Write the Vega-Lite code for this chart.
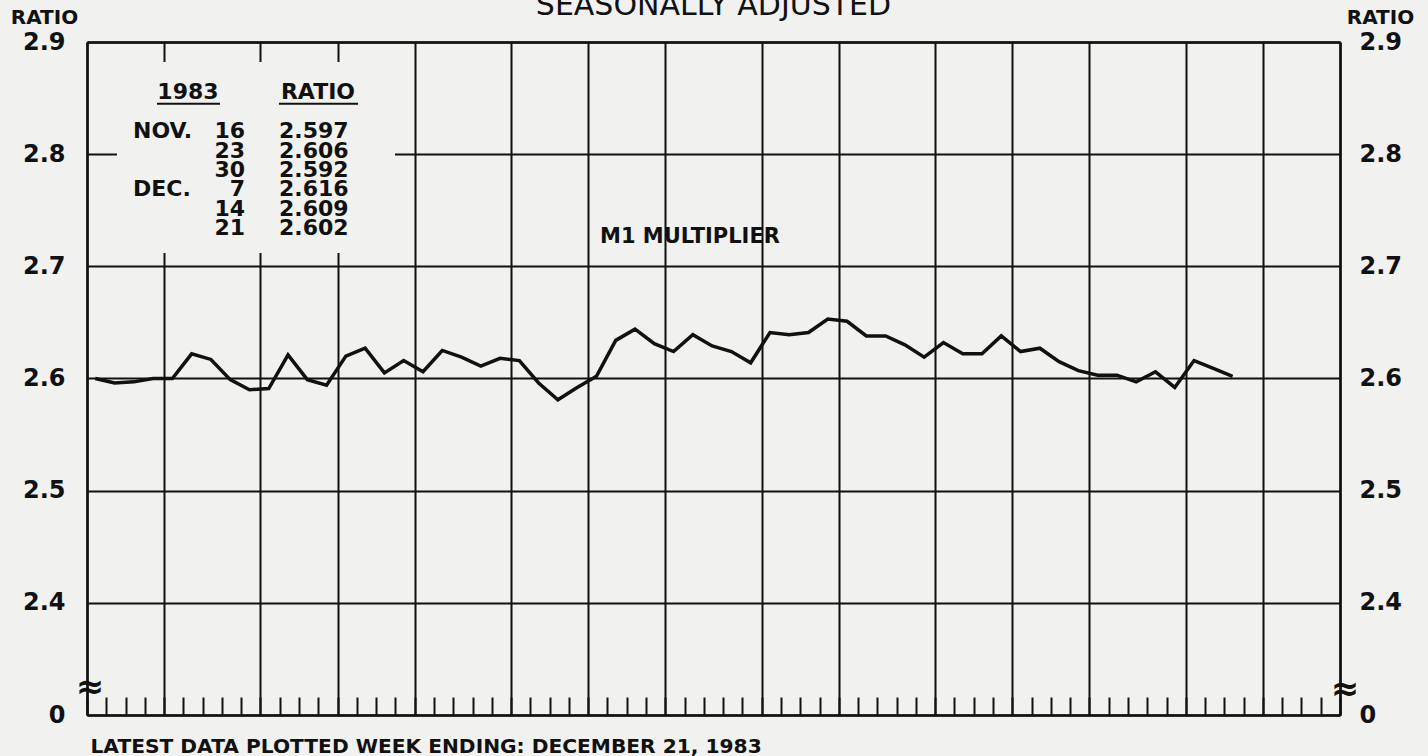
{
  "$schema": "https://vega.github.io/schema/vega-lite/v6.json",
  "width": 1253,
  "height": 673,
  "autosize": "none",
  "padding": {"left": 87, "top": 42, "right": 88, "bottom": 41},
  "background": "#f1f1ef",
  "title": {"text": "SEASONALLY ADJUSTED", "anchor": "middle", "font": "DejaVu Sans", "fontSize": 30, "fontWeight": "normal", "color": "#111111", "offset": -9, "dy": 29, "baseline": "alphabetic"},
  "datasets": {
    "m1": [
      {"date": "1982-11-03", "ratio": 2.600},
      {"date": "1982-11-10", "ratio": 2.596},
      {"date": "1982-11-17", "ratio": 2.597},
      {"date": "1982-11-24", "ratio": 2.600},
      {"date": "1982-12-01", "ratio": 2.600},
      {"date": "1982-12-08", "ratio": 2.622},
      {"date": "1982-12-15", "ratio": 2.617},
      {"date": "1982-12-22", "ratio": 2.599},
      {"date": "1982-12-29", "ratio": 2.590},
      {"date": "1983-01-05", "ratio": 2.591},
      {"date": "1983-01-12", "ratio": 2.621},
      {"date": "1983-01-19", "ratio": 2.599},
      {"date": "1983-01-26", "ratio": 2.594},
      {"date": "1983-02-02", "ratio": 2.620},
      {"date": "1983-02-09", "ratio": 2.627},
      {"date": "1983-02-16", "ratio": 2.605},
      {"date": "1983-02-23", "ratio": 2.616},
      {"date": "1983-03-02", "ratio": 2.606},
      {"date": "1983-03-09", "ratio": 2.625},
      {"date": "1983-03-16", "ratio": 2.619},
      {"date": "1983-03-23", "ratio": 2.611},
      {"date": "1983-03-30", "ratio": 2.618},
      {"date": "1983-04-06", "ratio": 2.616},
      {"date": "1983-04-13", "ratio": 2.596},
      {"date": "1983-04-20", "ratio": 2.581},
      {"date": "1983-04-27", "ratio": 2.592},
      {"date": "1983-05-04", "ratio": 2.602},
      {"date": "1983-05-11", "ratio": 2.634},
      {"date": "1983-05-18", "ratio": 2.644},
      {"date": "1983-05-25", "ratio": 2.631},
      {"date": "1983-06-01", "ratio": 2.624},
      {"date": "1983-06-08", "ratio": 2.639},
      {"date": "1983-06-15", "ratio": 2.629},
      {"date": "1983-06-22", "ratio": 2.624},
      {"date": "1983-06-29", "ratio": 2.614},
      {"date": "1983-07-06", "ratio": 2.641},
      {"date": "1983-07-13", "ratio": 2.639},
      {"date": "1983-07-20", "ratio": 2.641},
      {"date": "1983-07-27", "ratio": 2.653},
      {"date": "1983-08-03", "ratio": 2.651},
      {"date": "1983-08-10", "ratio": 2.638},
      {"date": "1983-08-17", "ratio": 2.638},
      {"date": "1983-08-24", "ratio": 2.630},
      {"date": "1983-08-31", "ratio": 2.619},
      {"date": "1983-09-07", "ratio": 2.632},
      {"date": "1983-09-14", "ratio": 2.622},
      {"date": "1983-09-21", "ratio": 2.622},
      {"date": "1983-09-28", "ratio": 2.638},
      {"date": "1983-10-05", "ratio": 2.624},
      {"date": "1983-10-12", "ratio": 2.627},
      {"date": "1983-10-19", "ratio": 2.615},
      {"date": "1983-10-26", "ratio": 2.607},
      {"date": "1983-11-02", "ratio": 2.603},
      {"date": "1983-11-09", "ratio": 2.603},
      {"date": "1983-11-16", "ratio": 2.597},
      {"date": "1983-11-23", "ratio": 2.606},
      {"date": "1983-11-30", "ratio": 2.592},
      {"date": "1983-12-07", "ratio": 2.616},
      {"date": "1983-12-14", "ratio": 2.609},
      {"date": "1983-12-21", "ratio": 2.602}
    ]
  },
  "config": {
    "view": {"stroke": null},
    "font": "DejaVu Sans",
    "axis": {
      "domainColor": "#111111", "domainWidth": 2.5,
      "gridColor": "#111111", "gridWidth": 2, "gridOpacity": 1,
      "tickColor": "#111111", "labelColor": "#111111", "titleColor": "#111111",
      "labelFont": "DejaVu Sans", "titleFont": "DejaVu Sans", "labelOverlap": false
    }
  },
  "resolve": {"scale": {"y": "independent"}, "axis": {"x": "independent", "y": "independent"}},
  "layer": [
    {
      "resolve": {"axis": {"x": "independent", "y": "independent"}},
      "layer": [
        {
          "data": {"name": "m1"},
          "mark": {"type": "line", "color": "#111111", "strokeWidth": 3.5},
          "encoding": {
            "x": {
              "field": "date", "type": "temporal",
              "scale": {"domain": [{"year": 1982, "month": 10, "date": 31}, {"year": 1984, "month": 1, "date": 29}], "nice": false},
              "axis": {
                "orient": "bottom", "tickCount": {"interval": "week", "step": 1}, "tickSize": -18, "tickWidth": 2,
                "labels": false, "grid": false, "domain": true,
                "title": "LATEST DATA PLOTTED WEEK ENDING: DECEMBER 21, 1983",
                "titleX": 3, "titleY": 37, "titleAlign": "left", "titleBaseline": "alphabetic",
                "titleFontSize": 20.2, "titleFontWeight": "bold"
              }
            },
            "y": {
              "field": "ratio", "type": "quantitative",
              "scale": {"domain": [2.3, 2.9], "nice": false, "zero": false},
              "axis": {
                "orient": "left", "values": [2.3, 2.4, 2.5, 2.6, 2.7, 2.8, 2.9],
                "labelExpr": "datum.value < 2.35 ? '0' : format(datum.value, '.1f')",
                "grid": true, "ticks": false, "tickSize": 0, "labelPadding": 22,
                "labelFontSize": 24, "labelFontWeight": "bold",
                "title": "RATIO", "titleAngle": 0, "titleX": -43, "titleY": -19,
                "titleAlign": "center", "titleBaseline": "alphabetic", "titleFontSize": 20, "titleFontWeight": "bold"
              }
            }
          }
        },
        {
          "data": {"name": "m1"},
          "mark": {"type": "point", "opacity": 0},
          "encoding": {
            "x": {
              "field": "date", "type": "temporal",
              "scale": {"domain": [{"year": 1982, "month": 10, "date": 31}, {"year": 1984, "month": 1, "date": 29}], "nice": false},
              "axis": {
                "orient": "top", "grid": true, "ticks": false, "labels": false, "domain": true, "title": null,
                "values": [
                  {"year": 1982, "month": 10, "date": 31},
                  {"year": 1982, "month": 11, "date": 28},
                  {"year": 1983, "month": 1, "date": 2},
                  {"year": 1983, "month": 1, "date": 30},
                  {"year": 1983, "month": 2, "date": 27},
                  {"year": 1983, "month": 4, "date": 3},
                  {"year": 1983, "month": 5, "date": 1},
                  {"year": 1983, "month": 5, "date": 29},
                  {"year": 1983, "month": 7, "date": 3},
                  {"year": 1983, "month": 7, "date": 31},
                  {"year": 1983, "month": 9, "date": 4},
                  {"year": 1983, "month": 10, "date": 2},
                  {"year": 1983, "month": 10, "date": 30},
                  {"year": 1983, "month": 12, "date": 4},
                  {"year": 1984, "month": 1, "date": 1},
                  {"year": 1984, "month": 1, "date": 29}
                ]
              }
            },
            "y": {
              "field": "ratio", "type": "quantitative",
              "scale": {"domain": [2.3, 2.9], "nice": false, "zero": false},
              "axis": {
                "orient": "right", "values": [2.3, 2.4, 2.5, 2.6, 2.7, 2.8, 2.9],
                "labelExpr": "datum.value < 2.35 ? '0' : format(datum.value, '.1f')",
                "grid": false, "ticks": false, "tickSize": 0, "labelPadding": 19,
                "labelFontSize": 24, "labelFontWeight": "bold",
                "title": "RATIO", "titleAngle": 0, "titleX": 40, "titleY": -19,
                "titleAlign": "center", "titleBaseline": "alphabetic", "titleFontSize": 20, "titleFontWeight": "bold"
              }
            }
          }
        },
        {
          "data": {"values": [{}]},
          "mark": {"type": "rect", "color": "#f1f1ef"},
          "encoding": {
            "x": {"datum": {"year": 1982, "month": 11, "date": 10, "hours": 21}, "axis": null},
            "x2": {"datum": {"year": 1983, "month": 2, "date": 19, "hours": 20}},
            "y": {"datum": 2.8822, "axis": null},
            "y2": {"datum": 2.7118}
          }
        },
        {
          "data": {"values": [{}]},
          "mark": {"type": "text", "fontSize": 22, "fontWeight": "bold", "color": "#111111", "align": "center", "baseline": "middle"},
          "encoding": {
            "x": {"datum": {"year": 1982, "month": 12, "date": 6, "hours": 16}, "axis": null},
            "y": {"datum": 2.8552, "axis": null},
            "text": {"value": "1983"}
          }
        },
        {
          "data": {"values": [{}]},
          "mark": {"type": "text", "fontSize": 22, "fontWeight": "bold", "color": "#111111", "align": "center", "baseline": "middle"},
          "encoding": {
            "x": {"datum": {"year": 1983, "month": 1, "date": 22, "hours": 21}, "axis": null},
            "y": {"datum": 2.8552, "axis": null},
            "text": {"value": "RATIO"}
          }
        },
        {
          "data": {"values": [{}]},
          "mark": {"type": "rule", "color": "#111111", "strokeWidth": 2},
          "encoding": {
            "x": {"datum": {"year": 1982, "month": 11, "date": 25, "hours": 10}, "axis": null},
            "x2": {"datum": {"year": 1982, "month": 12, "date": 18, "hours": 7}},
            "y": {"datum": 2.845, "axis": null}
          }
        },
        {
          "data": {"values": [{}]},
          "mark": {"type": "rule", "color": "#111111", "strokeWidth": 2},
          "encoding": {
            "x": {"datum": {"year": 1983, "month": 1, "date": 8, "hours": 17}, "axis": null},
            "x2": {"datum": {"year": 1983, "month": 2, "date": 6, "hours": 10}},
            "y": {"datum": 2.845, "axis": null}
          }
        },
        {
          "data": {"values": [{}]},
          "mark": {"type": "text", "fontSize": 21, "fontWeight": "bold", "color": "#111111", "align": "left", "baseline": "alphabetic"},
          "encoding": {
            "x": {"datum": {"year": 1983, "month": 5, "date": 5, "hours": 7}, "axis": null},
            "y": {"datum": 2.7207, "axis": null},
            "text": {"value": "M1 MULTIPLIER"}
          }
        },
        {
          "data": {"values": [{}]},
          "mark": {"type": "text", "fontSize": 34, "fontWeight": "bold", "color": "#111111", "align": "center", "baseline": "middle"},
          "encoding": {
            "x": {"datum": {"year": 1982, "month": 11, "date": 1, "hours": 2}, "axis": null},
            "y": {"datum": 2.3243, "axis": null},
            "text": {"value": "≈"}
          }
        },
        {
          "data": {"values": [{}]},
          "mark": {"type": "text", "fontSize": 34, "fontWeight": "bold", "color": "#111111", "align": "center", "baseline": "middle"},
          "encoding": {
            "x": {"datum": {"year": 1984, "month": 1, "date": 30, "hours": 19}, "axis": null},
            "y": {"datum": 2.3226, "axis": null},
            "text": {"value": "≈"}
          }
        }
      ]
    },
    {
      "data": {"name": "m1"},
      "transform": [
        {"window": [{"op": "row_number", "as": "rk"}], "sort": [{"field": "date", "order": "descending"}]},
        {"filter": "datum.rk <= 6"},
        {"calculate": "upper(utcFormat(toDate(datum.date), '%b')) + '.'", "as": "mon"},
        {"calculate": "utcFormat(toDate(datum.date), '%-d')", "as": "day"},
        {"window": [{"op": "row_number", "as": "fm"}], "groupby": ["mon"], "sort": [{"field": "date", "order": "ascending"}]}
      ],
      "encoding": {
        "y": {"field": "rk", "type": "quantitative", "scale": {"domain": [-24.24, 10.627], "nice": false, "zero": false}, "axis": null}
      },
      "layer": [
        {
          "transform": [{"filter": "datum.fm == 1"}],
          "mark": {"type": "text", "fontSize": 22, "fontWeight": "bold", "color": "#111111", "align": "left", "baseline": "middle"},
          "encoding": {
            "x": {"datum": {"year": 1982, "month": 11, "date": 16, "hours": 17}, "axis": null},
            "text": {"field": "mon", "type": "nominal"}
          }
        },
        {
          "mark": {"type": "text", "fontSize": 22, "fontWeight": "bold", "color": "#111111", "align": "right", "baseline": "middle"},
          "encoding": {
            "x": {"datum": {"year": 1982, "month": 12, "date": 27, "hours": 9}, "axis": null},
            "text": {"field": "day", "type": "nominal"}
          }
        },
        {
          "mark": {"type": "text", "fontSize": 22, "fontWeight": "bold", "color": "#111111", "align": "left", "baseline": "middle"},
          "encoding": {
            "x": {"datum": {"year": 1983, "month": 1, "date": 8, "hours": 17}, "axis": null},
            "text": {"field": "ratio", "type": "quantitative", "format": ".3f"}
          }
        }
      ]
    }
  ]
}
